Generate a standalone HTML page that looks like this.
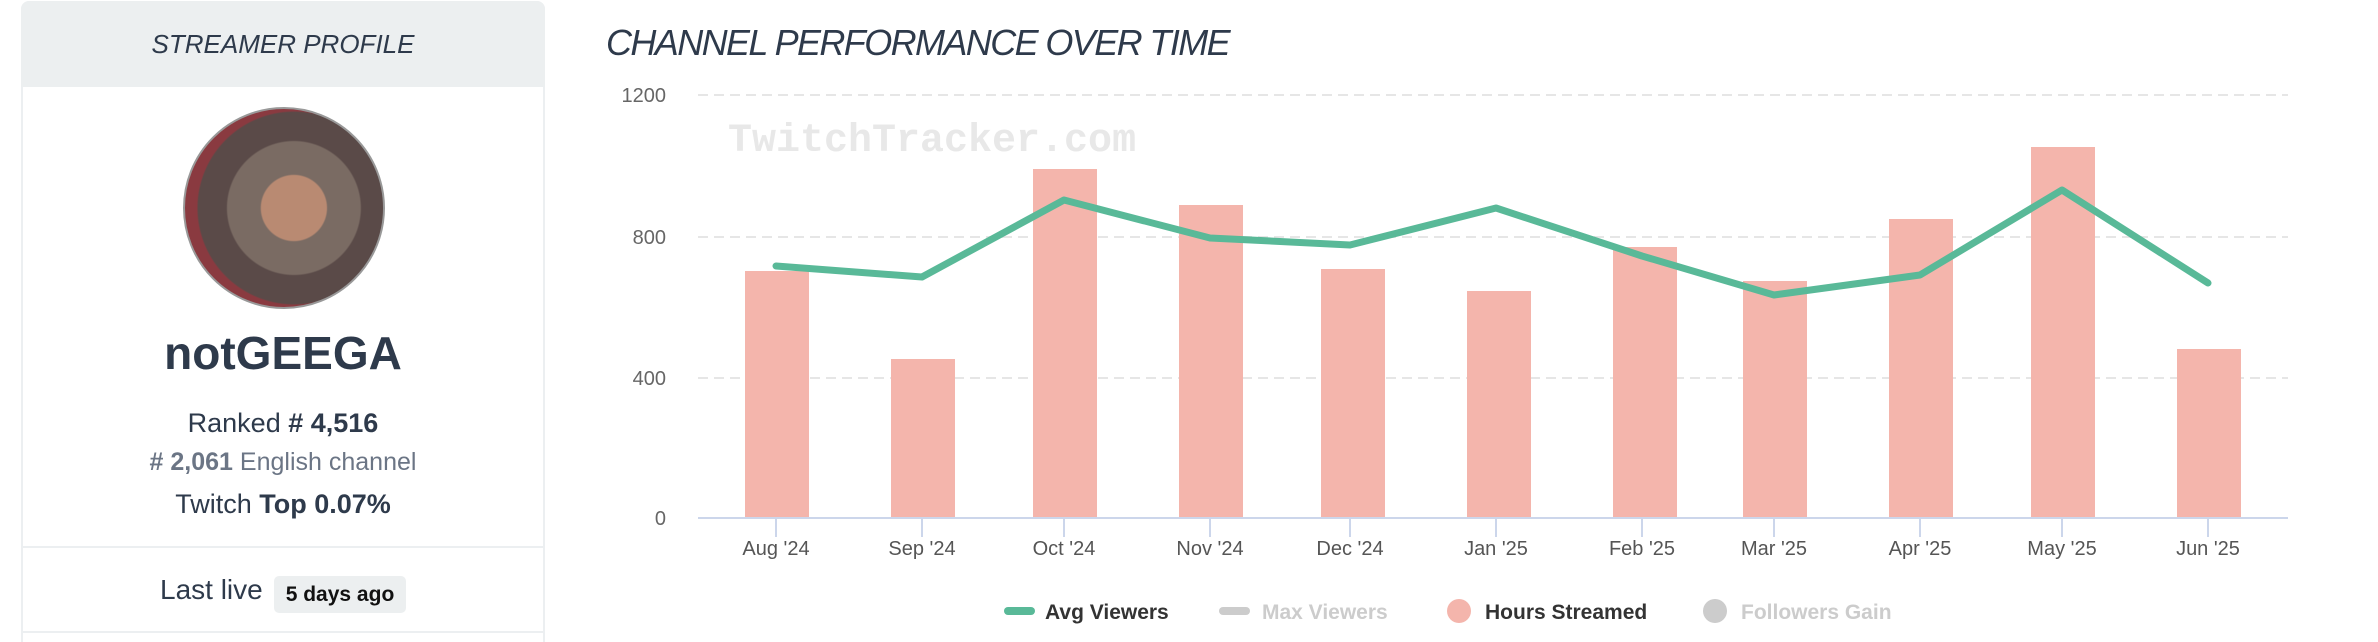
<!DOCTYPE html>
<html style="height:642px;overflow:hidden"><head><meta charset="utf-8"><style>
html,body{margin:0;width:2378px;height:642px;overflow:hidden}
body{background:#fff;font-family:"Liberation Sans",sans-serif;position:relative}
.abs{position:absolute}
.c{text-align:center;white-space:nowrap}
</style></head><body>
<div class="abs" style="left:21px;top:1px;width:524px;height:641px;border:2px solid #eceff1;border-bottom:none;border-radius:8px 8px 0 0;box-sizing:border-box"></div>
<div class="abs" style="left:21px;top:1px;width:524px;height:86px;background:#eceff0;border-radius:8px 8px 0 0"></div>
<div class="abs c" style="left:21px;width:524px;top:29px;font-size:26px;font-style:italic;color:#2e3a4b">STREAMER PROFILE</div>
<div class="abs" style="left:183px;top:107px;width:202px;height:202px;border-radius:50%;background:radial-gradient(circle at 55% 50%,#b98a72 0 22%,#7a6b63 23% 45%,#5a4a48 46% 65%,#8a3a40 66% 100%);border:2px solid #999;box-sizing:border-box"></div>
<div class="abs c" style="left:21px;width:524px;top:326px;font-size:46px;font-weight:bold;color:#2e3a4b">notGEEGA</div>
<div class="abs c" style="left:21px;width:524px;top:408px;font-size:27px;color:#2e3a4b">Ranked <b># 4,516</b></div>
<div class="abs c" style="left:21px;width:524px;top:448px;font-size:25px;color:#6b7585"><b># 2,061</b> English channel</div>
<div class="abs c" style="left:21px;width:524px;top:489px;font-size:27px;color:#2e3a4b">Twitch <b>Top 0.07%</b></div>
<div class="abs" style="left:23px;top:546px;width:520px;height:2px;background:#eceff1"></div>
<div class="abs" style="left:160px;top:574px;font-size:28px;color:#2e3a4b">Last live</div>
<div class="abs c" style="left:274px;top:576px;width:132px;height:37px;background:#eceff0;border-radius:5px;font-size:21px;font-weight:bold;line-height:37px;color:#111">5 days ago</div>
<div class="abs" style="left:23px;top:631px;width:520px;height:2px;background:#eceff1"></div>

<div class="abs" style="left:606px;top:22px;font-size:36px;font-style:italic;color:#2e3a4b;letter-spacing:-1.6px">CHANNEL PERFORMANCE OVER TIME</div>

<svg class="abs" style="left:0;top:0" width="2378" height="642" viewBox="0 0 2378 642">
<g stroke="#e6e6e6" stroke-width="2" stroke-dasharray="10,6">
<line x1="698" y1="95" x2="2288" y2="95"/><line x1="698" y1="237" x2="2288" y2="237"/><line x1="698" y1="378" x2="2288" y2="378"/>
</g>
<text x="728" y="151" font-family="Liberation Mono,monospace" font-weight="bold" font-size="40" fill="#e8e8e8">TwitchTracker.com</text>
<g font-family="Liberation Sans,sans-serif" font-size="20" fill="#666" text-anchor="end">
<text x="666" y="102">1200</text><text x="666" y="244">800</text><text x="666" y="385">400</text><text x="666" y="525">0</text>
</g>
<g fill="#f4b5ac">
<rect x="745" y="271" width="64" height="247"/><rect x="891" y="359" width="64" height="159"/>
<rect x="1033" y="169" width="64" height="349"/><rect x="1179" y="205" width="64" height="313"/>
<rect x="1321" y="269" width="64" height="249"/><rect x="1467" y="291" width="64" height="227"/>
<rect x="1613" y="247" width="64" height="271"/><rect x="1743" y="281" width="64" height="237"/>
<rect x="1889" y="219" width="64" height="299"/><rect x="2031" y="147" width="64" height="371"/>
<rect x="2177" y="349" width="64" height="169"/>
</g>
<line x1="698" y1="518" x2="2288" y2="518" stroke="#ccd6eb" stroke-width="2"/>
<g stroke="#ccd6eb" stroke-width="2">
<line x1="776" y1="518" x2="776" y2="537"/><line x1="922" y1="518" x2="922" y2="537"/><line x1="1064" y1="518" x2="1064" y2="537"/><line x1="1210" y1="518" x2="1210" y2="537"/><line x1="1350" y1="518" x2="1350" y2="537"/><line x1="1496" y1="518" x2="1496" y2="537"/><line x1="1642" y1="518" x2="1642" y2="537"/><line x1="1774" y1="518" x2="1774" y2="537"/><line x1="1920" y1="518" x2="1920" y2="537"/><line x1="2062" y1="518" x2="2062" y2="537"/><line x1="2208" y1="518" x2="2208" y2="537"/>
</g>
<polyline fill="none" stroke="#59b998" stroke-width="7" stroke-linejoin="round" stroke-linecap="round" points="776,266 922,277 1064,200 1210,238 1350,245 1496,208 1642,256 1774,295 1920,275 2062,190 2208,283"/>
<g font-family="Liberation Sans,sans-serif" font-size="20" fill="#555" text-anchor="middle">
<text x="776" y="555">Aug '24</text><text x="922" y="555">Sep '24</text><text x="1064" y="555">Oct '24</text><text x="1210" y="555">Nov '24</text><text x="1350" y="555">Dec '24</text><text x="1496" y="555">Jan '25</text><text x="1642" y="555">Feb '25</text><text x="1774" y="555">Mar '25</text><text x="1920" y="555">Apr '25</text><text x="2062" y="555">May '25</text><text x="2208" y="555">Jun '25</text>
</g>
<line x1="1008" y1="611" x2="1031" y2="611" stroke="#59b998" stroke-width="8" stroke-linecap="round"/>
<line x1="1223" y1="611" x2="1246" y2="611" stroke="#cccccc" stroke-width="8" stroke-linecap="round"/>
<circle cx="1459" cy="611" r="12" fill="#f4b5ac"/>
<circle cx="1715" cy="611" r="12" fill="#cccccc"/>
<g font-family="Liberation Sans,sans-serif" font-size="21" font-weight="bold">
<text x="1045" y="619" fill="#333">Avg Viewers</text>
<text x="1262" y="619" fill="#cccccc">Max Viewers</text>
<text x="1485" y="619" fill="#333">Hours Streamed</text>
<text x="1741" y="619" fill="#cccccc">Followers Gain</text>
</g>
</svg>
</body></html>
